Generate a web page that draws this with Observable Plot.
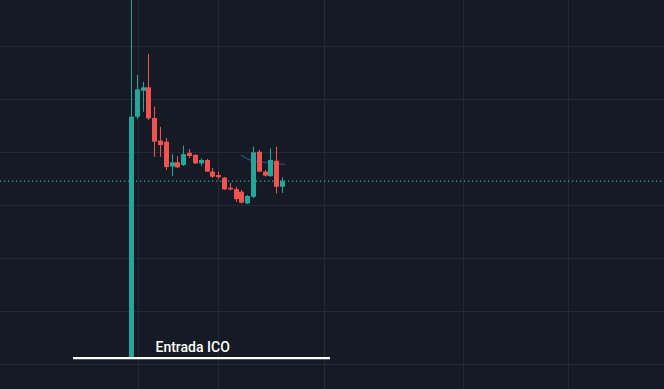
<!DOCTYPE html>
<html>
<head>
<meta charset="utf-8">
<script src="https://cdn.jsdelivr.net/npm/d3@7"></script>
<script src="https://cdn.jsdelivr.net/npm/@observablehq/plot@0.6"></script>
<style>
  html, body { margin: 0; padding: 0; background: #161a25; overflow: hidden; color: #d1d4dc; }
  #chart svg { display: block; }
</style>
</head>
<body>
<div id="chart"></div>
<script>
// Daily candles (index = day number), prices in arbitrary units
const open  = [2.26, 11.33, 12.31, 12.44, 11.28, 10.43, 10.39, 9.45, 9.61, 9.51, 9.97, 9.89, 9.57, 9.70, 9.26, 9.13, 9.03, 8.65, 8.60, 8.50, 8.06, 8.31, 10.01, 9.26, 9.09, 9.67, 8.69];
const close = [11.33, 12.36, 12.44, 11.27, 10.39, 10.26, 9.43, 9.61, 9.42, 9.92, 9.85, 9.57, 9.70, 9.26, 9.07, 9.05, 8.59, 8.59, 8.22, 8.09, 8.34, 9.99, 9.26, 9.11, 9.70, 8.69, 8.92];
const high  = [17.0, 12.91, 12.65, 13.70, 11.71, 10.95, 10.53, 9.92, 9.85, 10.24, 10.11, 9.92, 9.76, 9.74, 9.40, 9.26, 9.06, 8.83, 8.69, 8.57, 8.38, 10.20, 10.08, 9.32, 10.14, 10.20, 9.05];
const low   = [2.26, 11.25, 11.52, 11.21, 9.82, 9.82, 9.32, 9.09, 9.40, 9.47, 9.77, 9.55, 9.48, 9.25, 9.02, 8.97, 8.57, 8.55, 8.12, 8.06, 8.04, 8.26, 9.25, 9.08, 9.06, 8.44, 8.46];

// Grid positions (time index and price levels)
const gridX = [1.05, 14.97, 33.05, 57.14, 75.13];
const gridY = [2, 4, 6, 8, 10, 12, 14];

// Thin moving-average-like line segment
const maX = [18.85, 19.8, 21.5, 24.0, 26.2];
const maY = [9.89, 9.74, 9.66, 9.60, 9.55];

// "Entrada ICO" level
const icoLevel = 2.24;
const icoFrom = -10.07, icoTo = 34.17;
const icoLabel = "Entrada ICO";
const icoLabelX = 4.1, icoLabelY = 2.64;

const candles = open.map((o, i) => ({i, o, c: close[i], h: high[i], l: low[i], up: close[i] >= o}));
const upC = candles.filter(d => d.up);
const dnC = candles.filter(d => !d.up);
const lastClose = close[close.length - 1];
const ma = maX.map((x, k) => ({x, y: maY[k]}));

const GREEN = "#26a69a", RED = "#ef5350";

function candleMarks(data, color) {
  return [
    // wick: 1px-wide filled rect centred in the candle slot
    Plot.rect(data, {
      x1: d => d.i - 0.43, x2: d => d.i + 0.43, y1: "l", y2: "h",
      fill: color, insetLeft: 2, insetRight: 2
    }),
    // body
    Plot.rect(data, {
      x1: d => d.i - 0.43, x2: d => d.i + 0.43,
      y1: d => Math.min(d.o, d.c), y2: d => Math.max(d.o, d.c),
      fill: color
    })
  ];
}

const chart = Plot.plot({
  width: 664,
  height: 389,
  margin: 0,
  style: {background: "#161a25", overflow: "hidden"},
  x: {domain: [-22.63, 91.65], axis: null, round: true},
  y: {domain: [1.057, 15.736], axis: null},
  marks: [
    Plot.ruleY(gridY, {stroke: "#242937", strokeWidth: 1}),
    Plot.ruleX(gridX, {stroke: "#242937", strokeWidth: 1}),
    Plot.ruleY([lastClose], {stroke: GREEN, strokeWidth: 1.2, strokeDasharray: "1.3,2.7"}),
    Plot.line(ma, {x: "x", y: "y", stroke: "#244d78", strokeWidth: 1.2, curve: "basis"}),
    ...candleMarks(upC, GREEN),
    ...candleMarks(dnC, RED),
    Plot.ruleY([icoLevel], {x1: icoFrom, x2: icoTo, stroke: "#ffffff", strokeWidth: 2.2}),
    Plot.text([icoLabel], {x: icoLabelX, y: icoLabelY, text: d => d, textAnchor: "start", fill: "#ffffff",
      fontSize: 14, fontWeight: 500, fontFamily: "Roboto, sans-serif"})
  ]
});
document.getElementById("chart").appendChild(chart);
</script>
</body>
</html>
